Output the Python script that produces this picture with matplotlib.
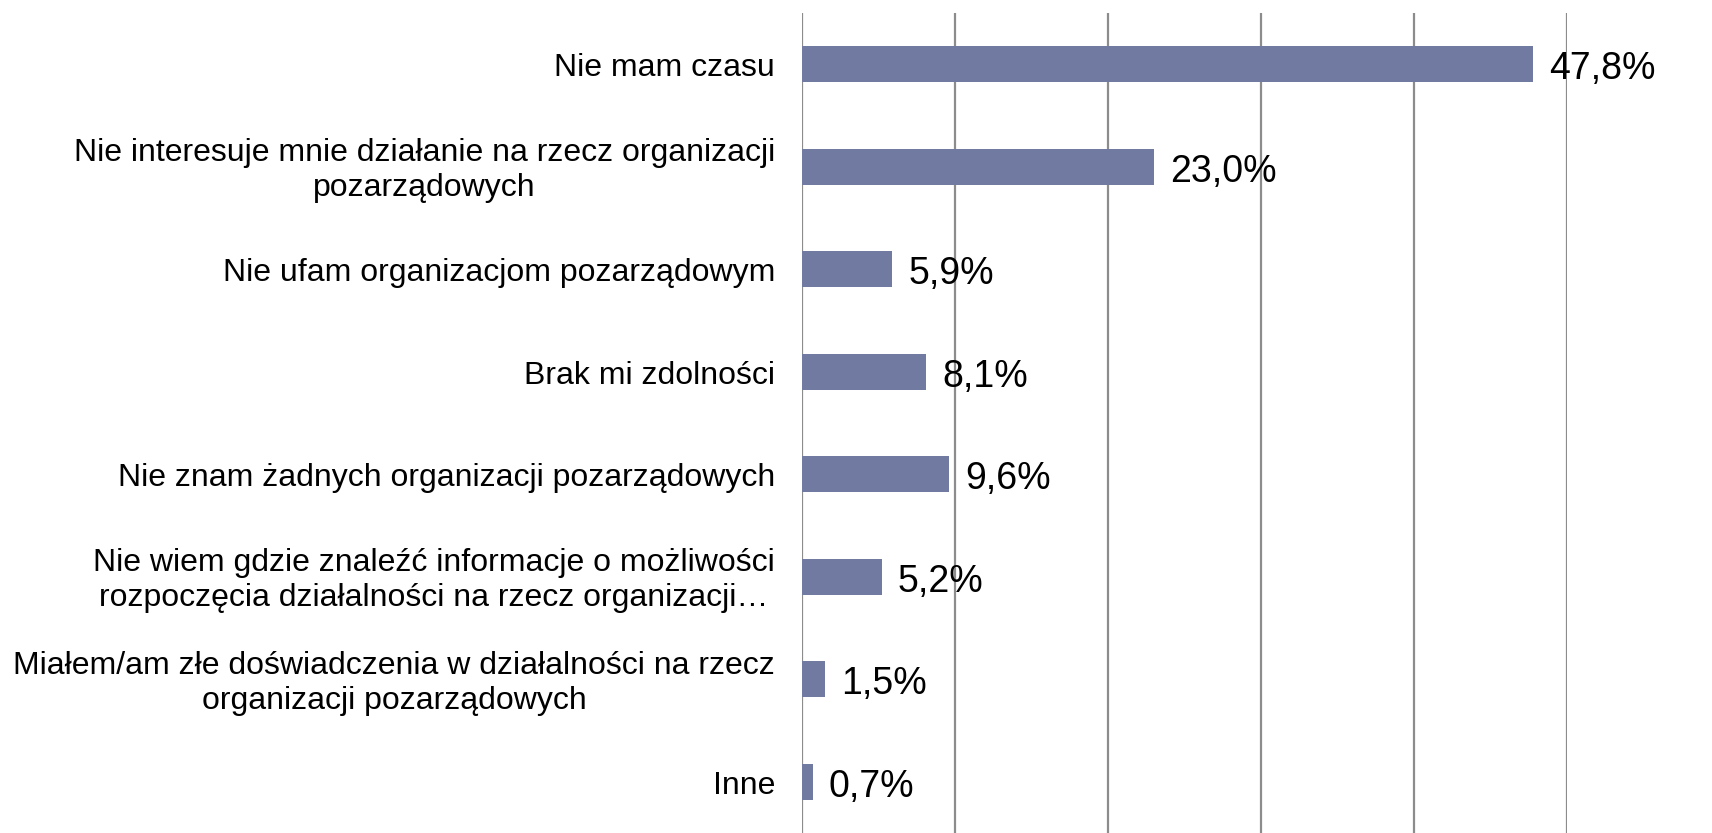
import matplotlib
matplotlib.use("Agg")
from matplotlib import pyplot as plt

categories = [
    "Nie mam czasu",
    "Nie interesuje mnie działanie na rzecz organizacji\npozarządowych",
    "Nie ufam organizacjom pozarządowym",
    "Brak mi zdolności",
    "Nie znam żadnych organizacji pozarządowych",
    "Nie wiem gdzie znaleźć informacje o możliwości\nrozpoczęcia działalności na rzecz organizacji…",
    "Miałem/am złe doświadczenia w działalności na rzecz\norganizacji pozarządowych",
    "Inne",
]
values = [47.8, 23.0, 5.9, 8.1, 9.6, 5.2, 1.5, 0.7]
value_labels = ["47,8%", "23,0%", "5,9%", "8,1%", "9,6%", "5,2%", "1,5%", "0,7%"]

plt.rcParams['font.family'] = ['Liberation Sans', 'DejaVu Sans']

W, H = 1712, 833
fig = plt.figure(figsize=(W / 100, H / 100), dpi=100)
ax = fig.add_axes([802 / W, 0, (1567 - 802) / W, (833 - 13) / H])

ypos = list(range(len(categories)))
ax.barh(ypos, values, height=0.35, color="#717ba1", zorder=3)
ax.set_ylim(len(categories) - 0.5, -0.5)
ax.set_xlim(0, 50)
ax.set_xticks([0, 10, 20, 30, 40, 50])
ax.set_xticklabels([])
ax.tick_params(axis="both", length=0)
ax.grid(axis="x", color="#8c8c8c", linewidth=1.6, zorder=4)
ax.set_axisbelow(False)
for s in ax.spines.values():
    s.set_visible(False)

ax.set_yticks(ypos)
ax.set_yticklabels([])
for y, cat in zip(ypos, categories):
    ax.annotate(cat, xy=(0, y), xytext=(-27, -4), textcoords="offset pixels",
                ha="right", va="center", multialignment="center",
                fontsize=23, linespacing=1.2, annotation_clip=False)

for y, v, lab in zip(ypos, values, value_labels):
    ax.annotate(lab, xy=(v, y), xytext=(16, -5), textcoords="offset pixels",
                ha="left", va="center", fontsize=27, zorder=5,
                annotation_clip=False)

fig.savefig("out.png", dpi=100)
